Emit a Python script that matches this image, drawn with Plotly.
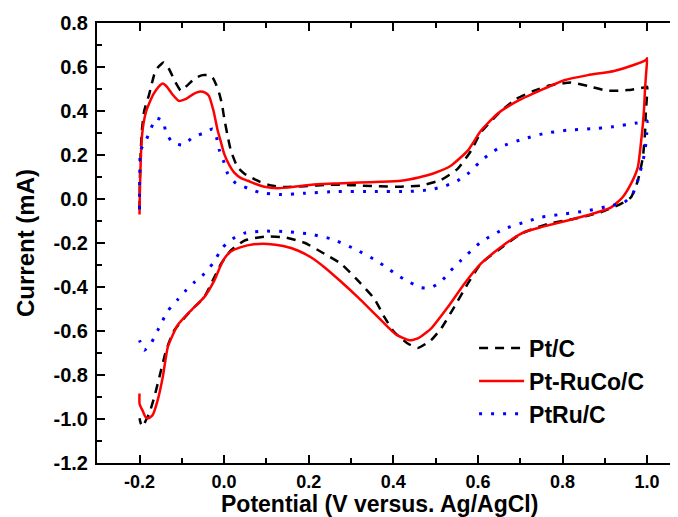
import plotly.graph_objects as go

# ---------------- data ----------------
series_names = ["Pt/C", "Pt-RuCo/C", "PtRu/C"]

ptc_x = [-0.200, -0.199, -0.197, -0.194, -0.189, -0.183, -0.177, -0.165, -0.157, -0.143,
         -0.130, -0.115, -0.102, -0.085, -0.068, -0.051, -0.035, -0.027, -0.019, -0.011,
         -0.005, 0.000, 0.008, 0.016, 0.032, 0.048, 0.064, 0.085, 0.111, 0.140,
         0.190, 0.250, 0.300, 0.360, 0.418, 0.466, 0.513, 0.552, 0.584, 0.607,
         0.655, 0.690, 0.730, 0.765, 0.820, 0.860, 0.907, 0.954, 0.993, 1.000,
         0.999, 0.997, 0.995, 0.990, 0.978, 0.962, 0.938, 0.891, 0.828, 0.765,
         0.702, 0.647, 0.607, 0.576, 0.544, 0.513, 0.489, 0.458, 0.434, 0.402,
         0.379, 0.355, 0.316, 0.276, 0.237, 0.190, 0.142, 0.095, 0.048, 0.016,
         -0.007, -0.023, -0.047, -0.078, -0.118, -0.137, -0.153, -0.165, -0.177, -0.186,
         -0.192, -0.197, -0.200]
ptc_y = [-0.050, 0.100, 0.220, 0.320, 0.400, 0.440, 0.477, 0.567, 0.597, 0.620,
         0.590, 0.530, 0.492, 0.520, 0.550, 0.563, 0.562, 0.552, 0.520, 0.477,
         0.430, 0.370, 0.290, 0.220, 0.144, 0.115, 0.098, 0.078, 0.061, 0.055,
         0.058, 0.065, 0.063, 0.058, 0.056, 0.061, 0.087, 0.137, 0.220, 0.303,
         0.400, 0.454, 0.490, 0.514, 0.529, 0.514, 0.492, 0.495, 0.507, 0.510,
         0.450, 0.400, 0.300, 0.190, 0.083, 0.008, -0.022, -0.060, -0.090, -0.113,
         -0.158, -0.234, -0.294, -0.385, -0.491, -0.589, -0.642, -0.677, -0.657, -0.605,
         -0.537, -0.453, -0.370, -0.294, -0.249, -0.199, -0.174, -0.171, -0.189, -0.234,
         -0.294, -0.355, -0.446, -0.506, -0.597, -0.688, -0.809, -0.900, -0.975, -1.010,
         -1.035, -1.020, -0.997]

ptruco_x = [-0.200, -0.199, -0.197, -0.194, -0.190, -0.184, -0.176, -0.166, -0.155, -0.145,
            -0.135, -0.122, -0.107, -0.090, -0.072, -0.059, -0.045, -0.036, -0.025, -0.015,
            -0.007, 0.000, 0.012, 0.024, 0.040, 0.056, 0.075, 0.095, 0.127, 0.160,
            0.190, 0.230, 0.268, 0.320, 0.370, 0.418, 0.460, 0.496, 0.536, 0.576,
            0.607, 0.647, 0.694, 0.749, 0.804, 0.860, 0.922, 0.970, 0.997, 1.000,
            0.998, 0.995, 0.993, 0.990, 0.986, 0.978, 0.962, 0.942, 0.915, 0.875,
            0.812, 0.749, 0.710, 0.678, 0.640, 0.607, 0.568, 0.529, 0.489, 0.458,
            0.438, 0.410, 0.395, 0.371, 0.316, 0.276, 0.237, 0.205, 0.174, 0.140,
            0.103, 0.070, 0.040, 0.015,
            0.000, -0.012, -0.023, -0.047, -0.078, -0.110, -0.133, -0.145, -0.157, -0.169,
            -0.179, -0.186, -0.192, -0.197, -0.200, -0.200]
ptruco_y = [-0.070, 0.050, 0.180, 0.290, 0.350, 0.400, 0.440, 0.480, 0.510, 0.525,
            0.510, 0.475, 0.446, 0.455, 0.478, 0.488, 0.484, 0.469, 0.400, 0.310,
            0.255, 0.206, 0.155, 0.120, 0.095, 0.083, 0.068, 0.056, 0.049, 0.054,
            0.061, 0.068, 0.071, 0.075, 0.078, 0.083, 0.098, 0.117, 0.151, 0.220,
            0.310, 0.389, 0.446, 0.495, 0.540, 0.563, 0.582, 0.610, 0.632, 0.640,
            0.580, 0.500, 0.416, 0.340, 0.265, 0.144, 0.070, 0.008, -0.038, -0.065,
            -0.098, -0.128, -0.150, -0.186, -0.240, -0.294, -0.385, -0.491, -0.589, -0.634,
            -0.642, -0.620, -0.597, -0.551, -0.446, -0.375, -0.310, -0.265, -0.234, -0.214,
            -0.204, -0.206, -0.219, -0.240,
            -0.272, -0.320, -0.370, -0.446, -0.506, -0.574, -0.672, -0.809, -0.914, -0.982,
            -0.997, -0.990, -0.965, -0.945, -0.930, -0.884]

ptru_x = [-0.200, -0.200, -0.199, -0.198, -0.185, -0.173, -0.161, -0.145, -0.137, -0.122,
          -0.098, -0.074, -0.051, -0.027, -0.018, -0.011, 0.000, 0.008, 0.028, 0.056,
          0.083, 0.135, 0.190, 0.268, 0.350, 0.434, 0.489, 0.525, 0.552, 0.580,
          0.603, 0.627, 0.655, 0.706, 0.757, 0.812, 0.867, 0.918, 0.974, 0.997,
          1.000, 0.999, 0.997, 0.992, 0.979, 0.966, 0.946, 0.915, 0.860, 0.804,
          0.749, 0.718, 0.662, 0.607, 0.560, 0.536, 0.513, 0.489, 0.466, 0.438,
          0.410, 0.383, 0.359, 0.308, 0.253, 0.198, 0.142, 0.095, 0.048, 0.020,
          -0.003, -0.027, -0.047, -0.070, -0.090, -0.110, -0.132, -0.145, -0.157, -0.173,
          -0.189, -0.200]
ptru_y = [-0.045, 0.050, 0.150, 0.220, 0.265, 0.320, 0.368, 0.356, 0.300, 0.257,
          0.245, 0.280, 0.298, 0.318, 0.280, 0.220, 0.166, 0.117, 0.071, 0.049,
          0.030, 0.020, 0.026, 0.034, 0.034, 0.034, 0.043, 0.061, 0.083, 0.121,
          0.166, 0.204, 0.238, 0.272, 0.298, 0.313, 0.319, 0.328, 0.345, 0.351,
          0.355, 0.297, 0.251, 0.190, 0.091, 0.023, -0.015, -0.030, -0.053, -0.068,
          -0.083, -0.101, -0.136, -0.196, -0.279, -0.325, -0.375, -0.403, -0.403, -0.378,
          -0.347, -0.310, -0.279, -0.226, -0.181, -0.158, -0.148, -0.146, -0.155, -0.181,
          -0.219, -0.294, -0.340, -0.378, -0.415, -0.458, -0.506, -0.551, -0.597, -0.657,
          -0.688, -0.642]

x_tick_vals = [-0.2, 0.0, 0.2, 0.4, 0.6, 0.8, 1.0]
x_tick_text = ["-0.2", "0.0", "0.2", "0.4", "0.6", "0.8", "1.0"]
y_tick_vals = [-1.2, -1.0, -0.8, -0.6, -0.4, -0.2, 0.0, 0.2, 0.4, 0.6, 0.8]
y_tick_text = ["-1.2", "-1.0", "-0.8", "-0.6", "-0.4", "-0.2", "0.0", "0.2", "0.4", "0.6", "0.8"]

x_title = "Potential (V versus. Ag/AgCl)"
y_title = "Current (mA)"

# ---------------- figure ----------------
FONT = "Liberation Sans, Arial, sans-serif"

fig = go.Figure()
fig.add_trace(go.Scatter(x=ptc_x, y=ptc_y, mode="lines", name=series_names[0],
                         line=dict(color="#000000", width=2.5, dash="9px,7px",
                                   shape="spline", smoothing=0.5)))
fig.add_trace(go.Scatter(x=ptruco_x, y=ptruco_y, mode="lines", name=series_names[1],
                         line=dict(color="#ff0000", width=2.5,
                                   shape="spline", smoothing=0.5)))
fig.add_trace(go.Scatter(x=ptru_x, y=ptru_y, mode="lines", name=series_names[2],
                         line=dict(color="#0000ff", width=3, dash="3px,9px",
                                   shape="spline", smoothing=0.5)))

axis_common = dict(
    showline=True, linecolor="black", linewidth=2,
    ticks="inside", ticklen=8, tickwidth=1.5, tickcolor="black",
    showgrid=False, zeroline=False, automargin=False,
)

fig.update_xaxes(**axis_common, range=[-0.3005, 1.073],
                 tickvals=x_tick_vals, ticktext=x_tick_text, mirror="ticks",
                 ticklabelstandoff=1,
                 tickfont=dict(family=FONT, size=18, color="black", weight="bold"),
                 minor=dict(dtick=0.1, tick0=0, ticks="inside", ticklen=5,
                            tickwidth=1.5, tickcolor="black"))
fig.update_yaxes(**axis_common, range=[-1.2, 0.8],
                 tickvals=y_tick_vals, ticktext=y_tick_text, ticklabelstandoff=3,
                 tickfont=dict(family=FONT, size=20, color="black", weight="bold"),
                 minor=dict(dtick=0.1, tick0=0, ticks="inside", ticklen=5,
                            tickwidth=1.5, tickcolor="black"))

# the page adds an 8px body margin, so the figure is sized 8px smaller
fig.update_layout(
    width=670, height=509,
    margin=dict(l=89, r=0, t=15, b=54, autoexpand=False),
    paper_bgcolor="white", plot_bgcolor="white",
    showlegend=True,
    legend=dict(x=0.649, y=0.31, xanchor="left", yanchor="top",
                bgcolor="rgba(0,0,0,0)", borderwidth=0, itemwidth=45,
                font=dict(family=FONT, size=23, color="black", weight="bold")),
    annotations=[
        dict(text=x_title, xref="paper", yref="paper", x=0.487, y=0,
             xanchor="center", yanchor="middle", yshift=-41, showarrow=False,
             font=dict(family=FONT, size=23, color="black", weight="bold")),
        dict(text=y_title, xref="paper", yref="paper", x=0, y=0.5,
             xanchor="center", yanchor="middle", xshift=-72, textangle=-90,
             showarrow=False,
             font=dict(family=FONT, size=24, color="black", weight="bold")),
    ],
)

fig.write_html("out.html")
